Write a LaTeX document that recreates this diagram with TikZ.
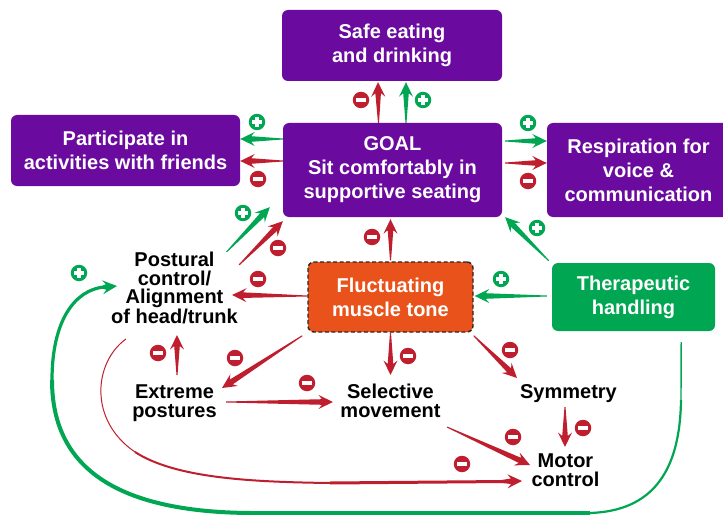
\documentclass[tikz,border=0pt]{standalone}
\usepackage{fontspec}
\setmainfont{Liberation Sans}
\usetikzlibrary{calc}
\definecolor{pur}{HTML}{6A0A9E}
\definecolor{gbox}{HTML}{00A651}
\definecolor{ared}{HTML}{BE1E2D}
\definecolor{agrn}{HTML}{00A651}
\definecolor{orng}{HTML}{E9531B}
\newcommand\tarr[3]{%
  \coordinate (tT) at (#2); \coordinate (tH) at (#3);
  \coordinate (tS) at ($(tH)!11pt!(tT)$);
  \coordinate (tW) at ($(tH)!14.5pt!(tT)$);
  \fill[#1] ($(tT)!0.5pt!90:(tH)$) -- ($(tS)!2.8pt!90:(tH)$) -- ($(tW)!7pt!90:(tH)$) -- (tH)
    -- ($(tW)!7pt!-90:(tH)$) -- ($(tS)!2.8pt!-90:(tH)$) -- ($(tT)!0.5pt!-90:(tH)$) -- cycle;}
\tikzset{
  pbox/.style={rounded corners=6pt, fill=pur, text=white, inner sep=0pt, align=center,
    font=\bfseries\fontsize{20}{24}\selectfont},
  gbx/.style={pbox, fill=gbox},
  obx/.style={pbox, fill=orng, draw=black!85, line width=1.4pt, dash pattern=on 4pt off 2.5pt},
  lbl/.style={inner sep=0pt, align=center, text=black, font=\bfseries\fontsize{20}{18.5}\selectfont},
  micon/.style={circle, fill=ared, minimum size=16.5pt, inner sep=0pt,
    path picture={\fill[white] ([xshift=-5pt,yshift=-1.8pt]path picture bounding box.center) rectangle ([xshift=5pt,yshift=1.8pt]path picture bounding box.center);}},
  picon/.style={circle, fill=agrn, minimum size=16.5pt, inner sep=0pt,
    path picture={\fill[white] ([xshift=-5.2pt,yshift=-1.8pt]path picture bounding box.center) rectangle ([xshift=5.2pt,yshift=1.8pt]path picture bounding box.center);
      \fill[white] ([xshift=-1.8pt,yshift=-5.2pt]path picture bounding box.center) rectangle ([xshift=1.8pt,yshift=5.2pt]path picture bounding box.center);}},
}
\begin{document}
\begin{tikzpicture}[x=1pt,y=-1pt]
\useasboundingbox (0,0) rectangle (723,516);
% nodes
\node[pbox, minimum width=220pt, minimum height=71pt] (safe) at (392,45.5) {Safe eating\\and drinking};
\node[pbox, minimum width=219pt, minimum height=94pt] (goal) at (392.5,170) {GOAL\\Sit comfortably in\\supportive seating};
\node[pbox, minimum width=229pt, minimum height=71pt] (part) at (125.5,150.5) {Participate in\\activities with friends};
\node[pbox, minimum width=183pt, minimum height=94pt] (resp) at (638.5,170) {Respiration for\\voice \&\\communication};
\node[gbx, minimum width=163pt, minimum height=68pt] (ther) at (633.5,297) {Therapeutic\\handling};
\node[obx, minimum width=165pt, minimum height=70pt] (fluc) at (390.5,297) {Fluctuating\\muscle tone};
\node[lbl] (post) at (174.5,288) {Postural\\control/\\Alignment\\of head/trunk};
\node[lbl] (ext) at (174.5,403) {Extreme\\postures};
\node[lbl] (sel) at (390.5,401) {Selective\\movement};
\node[lbl] (sym) at (568.5,394) {Symmetry};
\node[lbl] (mot) at (565.5,470) {Motor\\control};
% straight tapered arrows
\tarr{ared}{$(goal.north)+(-14,0)$}{$(safe.south)+(-14,1)$}
\tarr{agrn}{$(goal.north)+(13.5,0)$}{$(safe.south)+(14,1)$}
\tarr{agrn}{$(goal.west)+(0,-31)$}{$(part.east)+(0,-11.5)$}
\tarr{ared}{$(goal.west)+(0,-9)$}{$(part.east)+(0,10.5)$}
\tarr{agrn}{$(goal.east)+(3,-29)$}{$(resp.west)+(0,-29)$}
\tarr{ared}{$(goal.east)+(3,-7)$}{$(resp.west)+(0,-7)$}
\tarr{agrn}{$(post)+(52,-36)$}{$(goal.south west)+(-13,-10)$}
\tarr{ared}{$(post)+(64.5,-23)$}{$(goal.south west)+(0,4)$}
\tarr{ared}{$(fluc.north)+(0,-1)$}{$(goal.south)+(-2,2)$}
\tarr{agrn}{$(ther.north west)+(-3,-2)$}{$(goal.south east)+(3,0)$}
\tarr{agrn}{$(ther.west)+(-5,-1)$}{$(fluc.east)+(1,-1)$}
\tarr{ared}{$(fluc.west)+(0,-1)$}{$(post)+(57.5,7)$}
\tarr{ared}{$(ext)+(2.5,-28)$}{$(post)+(2.5,47)$}
\tarr{ared}{$(fluc.south west)+(-5,3)$}{$(ext)+(47.5,-15)$}
\tarr{ared}{$(fluc.south)$}{$(sel)+(0,-26)$}
\tarr{ared}{$(ext)+(51.5,-1)$}{$(sel)+(-57.5,1)$}
\tarr{ared}{$(fluc.south east)+(0,3)$}{$(sym)+(-51.5,-16)$}
\tarr{ared}{$(sym)+(-3.5,13)$}{$(mot)+(-0.5,-23)$}
\tarr{ared}{$(sel)+(56.5,26)$}{$(mot)+(-35.5,-5)$}
% green loop: therapeutic handling -> postural control
\coordinate (gs) at ($(ther.south east)+(-34,11)$);
\coordinate (ge) at ($(post)+(-57.5,-2)$);
\draw[agrn, line width=1.4pt] (gs) -- (681,400);
\draw[agrn, line width=2.2pt] (681,400) .. controls (680,472) and (652,511) .. (590,513);
\draw[agrn, line width=3.2pt] (590,513) -- (250,513);
\draw[agrn, line width=4pt] (250,513) .. controls (120,512) and (52,470) .. (52,380);
\draw[agrn, line width=3.2pt] (52,380) .. controls (52,320) and (75,290) .. (104,287);
\tarr{agrn}{100,287.5}{ge}
% red loop: postural control -> motor control
\coordinate (rs) at ($(post)+(-48.5,51)$);
\coordinate (re) at ($(mot)+(-43.5,11)$);
\draw[ared, line width=1pt] (rs) .. controls (94,362) and (88,420) .. (135,452);
\draw[ared, line width=2pt] (135,452) .. controls (175,478) and (250,482) .. (330,483);
\draw[ared, line width=3pt] (330,483) -- (505,481.5);
\tarr{ared}{495,481.6}{re}
% sign icons
\node[micon] (m1) at (361,100) {};
\node[picon] (p1) at (423,100) {};
\node[picon] (p2) at (257,122) {};
\node[micon] (m2) at (258,179) {};
\node[picon] (p3) at (528,123) {};
\node[micon] (m3) at (528,181) {};
\node[picon] (p4) at (243,213) {};
\node[micon] (m4) at (278,248) {};
\node[micon] (m5) at (372,237) {};
\node[picon] (p6) at (537,228) {};
\node[picon] (p7) at (501,279) {};
\node[micon] (m8) at (258,279) {};
\node[picon] (p9) at (79,273) {};
\node[micon] (m10) at (462,464) {};
\node[micon] (m11) at (158,353) {};
\node[micon] (m12) at (235,358) {};
\node[micon] (m13) at (408,356) {};
\node[micon] (m14) at (307,383) {};
\node[micon] (m15) at (510,350) {};
\node[micon] (m16) at (583,428) {};
\node[micon] (m17) at (513,437) {};
\end{tikzpicture}
\end{document}
